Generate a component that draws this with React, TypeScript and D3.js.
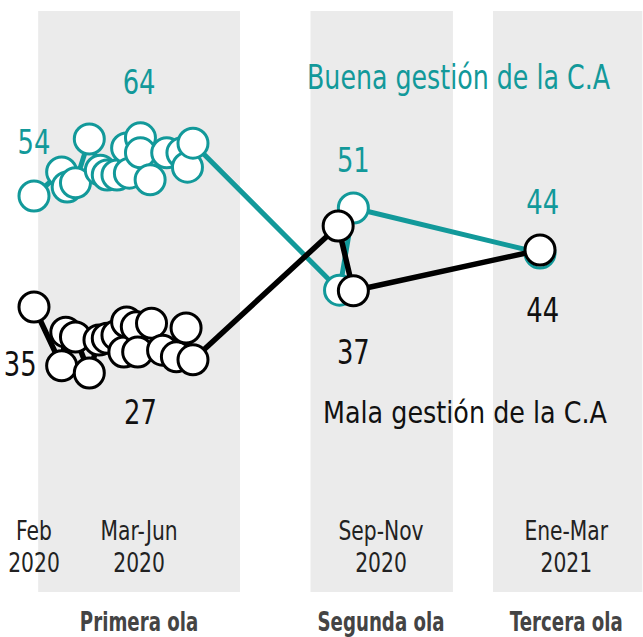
import React from "react";
import * as d3 from "d3";

const W = 643;
const H = 637;
const TEAL = "#12999a";
const FONT = "'DejaVu Sans', sans-serif";

// Buena gestión series
const buenaDates = [
  "2020-02-15", "2020-03-06", "2020-03-10", "2020-03-16", "2020-03-26", "2020-04-03",
  "2020-04-08", "2020-04-15", "2020-04-22", "2020-04-24", "2020-05-02", "2020-05-02",
  "2020-05-09", "2020-05-21", "2020-06-01", "2020-06-05", "2020-06-09",
  "2020-09-23", "2020-10-03", "2021-02-15",
];
const buenaValues = [
  53, 57, 54.5, 55.2, 62.5, 57.3, 56.5, 56.5, 61, 56.8, 62.7, 60.2,
  55.7, 60.2, 60.2, 57.8, 61.8, 37.3, 51, 43.5,
];

// Mala gestión series
const malaDates = [
  "2020-02-15", "2020-03-06", "2020-03-09", "2020-03-16", "2020-03-26", "2020-04-02",
  "2020-04-08", "2020-04-15", "2020-04-20", "2020-04-22", "2020-04-29", "2020-04-30",
  "2020-05-10", "2020-05-18", "2020-05-28", "2020-06-04", "2020-06-09",
  "2020-09-22", "2020-10-03", "2021-02-15",
];
const malaValues = [
  34.5, 24.7, 30.3, 29.5, 23.5, 29, 29.3, 29.8, 27, 32, 31.2, 27,
  31.8, 27.3, 26.2, 31, 25.7, 48, 37.2, 44,
];

// Waves (shaded bands)
const waveNames = ["Primera ola", "Segunda ola", "Tercera ola"];
const waveStarts = ["2020-02-18", "2020-09-02", "2021-01-12"];
const waveEnds = ["2020-07-13", "2020-12-14", "2021-04-30"];
const waveCenters = ["2020-05-01", "2020-10-23", "2021-03-06"];

// Period tick labels
const tickDates = ["2020-02-15", "2020-05-01", "2020-10-23", "2021-03-06"];
const tickLine1 = ["Feb", "Mar-Jun", "Sep-Nov", "Ene-Mar"];
const tickLine2 = ["2020", "2020", "2020", "2021"];

// Value annotations
const buenaLabelDates = ["2020-02-15", "2020-05-01", "2020-10-03", "2021-02-17"];
const buenaLabelValues = [54, 64, 51, 44];
const malaLabelDates = ["2020-02-05", "2020-05-02", "2020-10-03", "2021-02-17"];
const malaLabelValues = [35, 27, 37, 44];

const parse = d3.timeParse("%Y-%m-%d");

type TProps = {
  x: number;
  y: number;
  sx: number;
  size: number;
  fill: string;
  weight?: string;
  anchor?: string;
  children: React.ReactNode;
};

function T({ x, y, sx, size, fill, weight, anchor = "middle", children }: TProps) {
  return (
    <text
      transform={`translate(${x},${y}) scale(${sx},1)`}
      textAnchor={anchor}
      fontSize={size}
      fontWeight={weight || "normal"}
      fill={fill}
    >
      {children}
    </text>
  );
}

export default function App() {
  const x = d3
    .scaleTime()
    .domain([parse("2020-02-15")!, parse("2021-02-15")!])
    .range([34, 540]);
  const y = d3.scaleLinear().domain([20, 70]).range([394, 94]);

  const buena = buenaDates.map((d, i) => ({ x: x(parse(d)!), y: y(buenaValues[i]) }));
  const mala = malaDates.map((d, i) => ({ x: x(parse(d)!), y: y(malaValues[i]) }));

  const line = d3
    .line<{ x: number; y: number }>()
    .x((d) => d.x)
    .y((d) => d.y);

  const bandTop = 11;
  const bandBottom = 592;

  return (
    <svg
      width={W}
      height={H}
      style={{ position: "absolute", left: 0, top: 0, background: "#fff" }}
      fontFamily={FONT}
    >
      {waveStarts.map((s, i) => {
        const x0 = x(parse(s)!);
        const x1 = Math.min(W, x(parse(waveEnds[i])!));
        return (
          <rect key={"b" + i} x={x0} y={bandTop} width={x1 - x0} height={bandBottom - bandTop} fill="#ebebeb" />
        );
      })}

      {tickDates.map((d, i) => (
        <g key={"t" + i}>
          <T x={x(parse(d)!)} y={540} sx={0.78} size={26} fill="#222">{tickLine1[i]}</T>
          <T x={x(parse(d)!)} y={572} sx={0.78} size={26} fill="#222">{tickLine2[i]}</T>
        </g>
      ))}

      {waveNames.map((n, i) => (
        <T key={"w" + i} x={x(parse(waveCenters[i])!)} y={631} sx={0.7} size={26} weight="bold" fill="#444">
          {n}
        </T>
      ))}

      <path d={line(buena) || ""} fill="none" stroke={TEAL} strokeWidth={5} strokeLinejoin="round" />
      {buena.map((p, i) => (
        <circle key={"gc" + i} cx={p.x} cy={p.y} r={15} fill="#fff" stroke={TEAL} strokeWidth={3} />
      ))}

      <path d={line(mala) || ""} fill="none" stroke="#000" strokeWidth={5.5} strokeLinejoin="round" />
      {mala.map((p, i) => (
        <circle key={"bc" + i} cx={p.x} cy={p.y} r={15} fill="#fff" stroke="#000" strokeWidth={3} />
      ))}

      {buenaLabelDates.map((d, i) => (
        <T key={"gl" + i} x={x(parse(d)!)} y={y(buenaLabelValues[i]) - 36} sx={0.76} size={34} fill={TEAL}>
          {buenaLabelValues[i]}
        </T>
      ))}
      {malaLabelDates.map((d, i) => (
        <T key={"bl" + i} x={x(parse(d)!)} y={y(malaLabelValues[i]) + 72} sx={0.76} size={34} fill="#111">
          {malaLabelValues[i]}
        </T>
      ))}

      <text x={307} y={89} fontSize={33} fill={TEAL} textLength={303} lengthAdjust="spacingAndGlyphs">
        Buena gestión de la C.A
      </text>
      <text x={323} y={423} fontSize={31} fill="#111" textLength={284} lengthAdjust="spacingAndGlyphs">
        Mala gestión de la C.A
      </text>
    </svg>
  );
}
